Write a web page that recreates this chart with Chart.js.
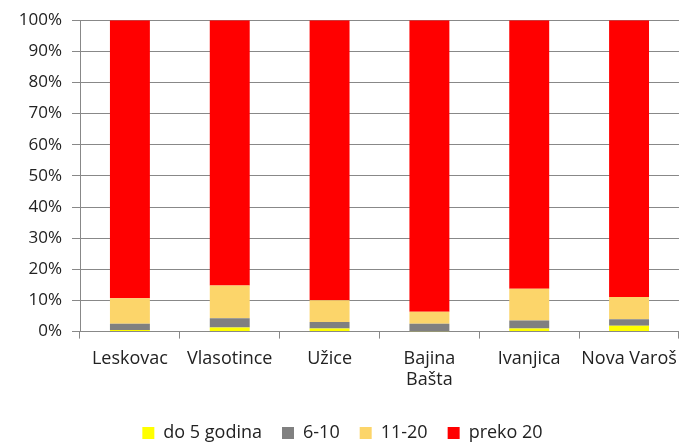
<!DOCTYPE html>
<html><head><meta charset="utf-8">
<script src="https://cdn.jsdelivr.net/npm/chart.js@4"></script>
<style>html,body{margin:0;padding:0;background:#fff}#w{width:687px;height:443px}</style>
</head><body><div id="w"><canvas id="c"></canvas></div>
<script>
const categories = ["Leskovac", "Vlasotince", "Užice", ["Bajina", "Bašta"], "Ivanjica", "Nova Varoš"];
const seriesNames = ["do 5 godina", "6-10", "11-20", "preko 20"];
const do5 = [0.5, 1.3, 1.0, 0.1, 1.0, 1.9];
const s6_10 = [2.0, 3.0, 2.1, 2.4, 2.6, 2.1];
const s11_20 = [8.2, 10.5, 7.0, 3.9, 10.2, 7.1];
const preko20 = [89.3, 85.2, 89.9, 93.6, 86.2, 88.9];
const colors = ["#FFFF00", "#808080", "#FCD56A", "#FF0000"];
const yTicks = [0,10,20,30,40,50,60,70,80,90,100];

const font = {family: "'Open Sans', sans-serif", size: 18, lineHeight: 1.15};
new Chart(document.getElementById('c'), {
  type: 'bar',
  data: {
    labels: categories,
    datasets: [do5, s6_10, s11_20, preko20].map((d,i)=>({
      label: seriesNames[i], data: d, backgroundColor: colors[i],
      barPercentage: 0.4, categoryPercentage: 1.0, borderWidth: 0
    }))
  },
  options: {
    responsive: true, maintainAspectRatio: false, animation: false,
    layout: {padding: {top: 7, right: 2, left: 0, bottom: -9}},
    plugins: {
      legend: {position: 'bottom', labels: {boxWidth: 12, boxHeight: 12, padding: 20, color: '#222', font: font}},
      tooltip: {enabled: false}
    },
    scales: {
      x: {
        stacked: true,
        afterFit: s => { s.height += 4; },
        grid: {display: true, drawOnChartArea: false, drawTicks: true, tickLength: 7, color: '#888', offset: true},
        border: {color: '#888'},
        ticks: {color: '#222', font: font, maxRotation: 0, autoSkip: false, padding: 10}
      },
      y: {
        stacked: true, min: 0, max: 100,
        afterFit: s => { s.width = 80; },
        afterBuildTicks: s => { s.ticks = yTicks.map(v => ({value: v})); },
        grid: {color: '#888', tickLength: 8},
        border: {color: '#888'},
        ticks: {color: '#222', font: {family: "'Open Sans', sans-serif", size: 17}, padding: 10, callback: v => v + '%'}
      }
    }
  }
});
</script>
</body></html>
